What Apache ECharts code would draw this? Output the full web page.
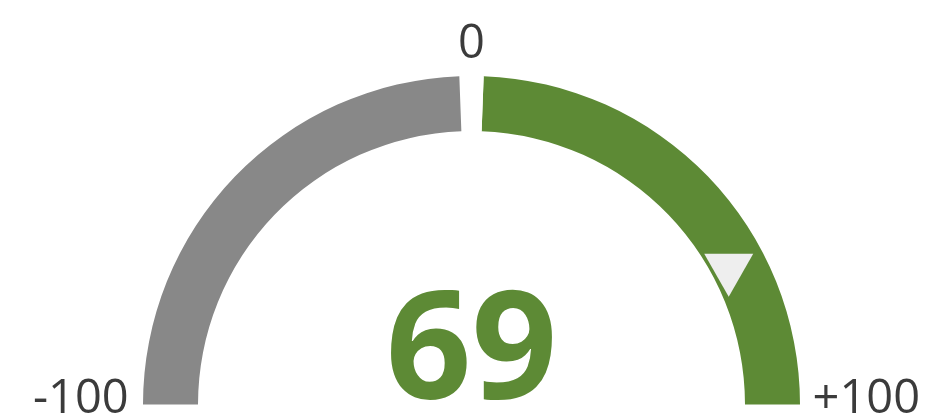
<!DOCTYPE html>
<html>
<head>
<meta charset="utf-8">
<script src="https://cdn.jsdelivr.net/npm/echarts@6/dist/echarts.min.js"></script>
<style>
  html, body { margin: 0; padding: 0; background: #fff; }
  #chart { width: 932px; height: 419px; }
</style>
</head>
<body>
<div id="chart"></div>
<script>
// gauge scale, colour break and current reading
const scaleMin = -100;
const scaleMax = 100;
const scaleBreak = 0;
const tickValues = [-100, 0, 100];
const tickLabels = ["-100", "0", "+100"];
const currentValue = 69;
const markerRing = [88.6]; // radius of the value marker, % of gauge radius

const GRAY = "#888888";
const GREEN = "#5d8a35";
const TEXT = "#3b3b3b";
const FONT = "'Open Sans', 'Noto Sans', sans-serif";

const center = [471.5, 404.5];
const radius = 328.5;
const gapHalf = 0.0118;
const breakFrac = (scaleBreak - scaleMin) / (scaleMax - scaleMin);

// per-label padding pushes the tick labels outside the arc
const labelRich = {
  l: { fontSize: 47, fontFamily: FONT, color: TEXT, padding: [0, 0, 9, 10] },
  t: { fontSize: 47, fontFamily: FONT, color: TEXT, padding: [65, 0, 0, 0] },
  r: { fontSize: 47, fontFamily: FONT, color: TEXT, padding: [0, 0, 9, 0] }
};
const richKeys = ["l", "t", "r"];

const chart = echarts.init(document.getElementById("chart"));

chart.setOption({
  animation: false,
  polar: { center: center, radius: radius },
  angleAxis: {
    type: "value",
    startAngle: 180,
    min: scaleMin,
    max: scaleMax + (scaleMax - scaleMin),
    show: false
  },
  radiusAxis: { type: "value", min: 0, max: 100, show: false },
  series: [
    {
      type: "gauge",
      center: center,
      radius: radius,
      startAngle: 180,
      endAngle: 0,
      min: scaleMin,
      max: scaleMax,
      splitNumber: tickValues.length - 1,
      axisLine: {
        lineStyle: {
          width: 55,
          color: [
            [breakFrac - gapHalf, GRAY],
            [breakFrac + gapHalf, "#ffffff"],
            [1, GREEN]
          ]
        }
      },
      axisTick: { show: false },
      splitLine: { show: false, length: 0, distance: 0 },
      axisLabel: {
        distance: -120,
        formatter: function (v) {
          const i = tickValues.indexOf(Math.round(v));
          return "{" + richKeys[i] + "|" + tickLabels[i] + "}";
        },
        rich: labelRich
      },
      pointer: { show: false },
      anchor: { show: false },
      title: { show: false },
      detail: {
        offsetCenter: [0, -48],
        formatter: "{value}",
        fontSize: 150,
        lineHeight: 150,
        fontWeight: "bold",
        fontFamily: FONT,
        color: GREEN
      },
      data: [{ value: currentValue }]
    },
    {
      type: "scatter",
      coordinateSystem: "polar",
      symbol: "triangle",
      symbolSize: [49, 43],
      symbolRotate: 180,
      symbolOffset: [0, 7],
      itemStyle: { color: "#eeeeee", opacity: 1 },
      silent: true,
      z: 5,
      data: [[markerRing[0], currentValue]]
    }
  ]
});
</script>
</body>
</html>
